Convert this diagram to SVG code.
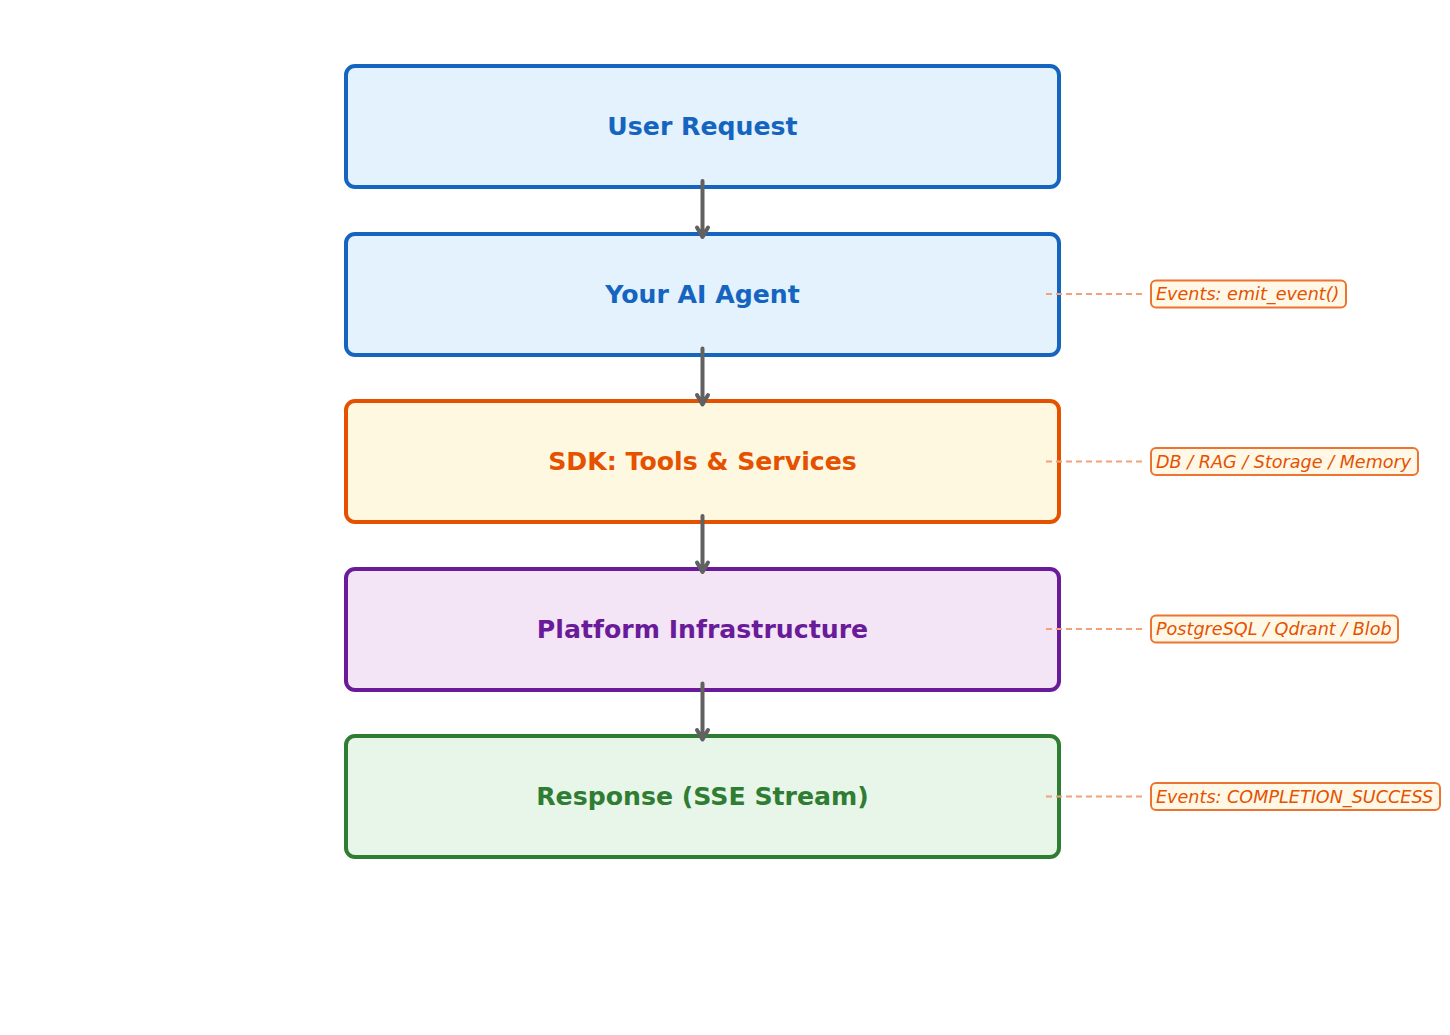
<svg xmlns="http://www.w3.org/2000/svg" width="1450" height="1035" viewBox="0 0 1450 1035">
<style>
.box{stroke-width:4}
.title{font-family:"DejaVu Sans",sans-serif;font-weight:bold;font-size:25.2px;text-anchor:middle;dominant-baseline:central}
.lbl{font-family:"DejaVu Sans",sans-serif;font-style:italic;font-size:17.6px;fill:#e65100;dominant-baseline:central}
.lblbox{fill:#fff8e6;stroke:#ec7332;stroke-width:2}
.dash{stroke:#f2a27a;stroke-width:2;stroke-dasharray:6,4;fill:none}
.arr{stroke:#616161;stroke-width:4;fill:none;stroke-linecap:round;stroke-linejoin:round}
</style>
<rect width="1450" height="1035" fill="#ffffff"/>
<g id="node-user-request">
<rect class="box" x="346" y="66" width="713" height="121" rx="9" fill="#e3f2fd" stroke="#1565c0"/>
<text class="title" x="702.5" y="126.5" fill="#1565c0">User Request</text>
</g>
<g id="node-ai-agent">
<rect class="box" x="346" y="234" width="713" height="121" rx="9" fill="#e3f2fd" stroke="#1565c0"/>
<text class="title" x="702.5" y="294" fill="#1565c0">Your AI Agent</text>
</g>
<g id="node-sdk">
<rect class="box" x="346" y="401" width="713" height="121" rx="9" fill="#fff8e1" stroke="#e65100"/>
<text class="title" x="702.5" y="461.5" fill="#e65100">SDK: Tools &amp; Services</text>
</g>
<g id="node-platform">
<rect class="box" x="346" y="569" width="713" height="121" rx="9" fill="#f3e5f5" stroke="#6a1b9a"/>
<text class="title" x="702.5" y="629" fill="#6a1b9a">Platform Infrastructure</text>
</g>
<g id="node-response">
<rect class="box" x="346" y="736" width="713" height="121" rx="9" fill="#e8f5e9" stroke="#2e7d32"/>
<text class="title" x="702.5" y="796.5" fill="#2e7d32">Response (SSE Stream)</text>
</g>
<g id="connectors">
<path class="arr" d="M702.5 181 V237 M697 227.5 L702.5 237 L708 227.5"/>
<path class="arr" d="M702.5 348.5 V404.5 M697 395 L702.5 404.5 L708 395"/>
<path class="arr" d="M702.5 516 V572 M697 562.5 L702.5 572 L708 562.5"/>
<path class="arr" d="M702.5 683.5 V739.5 M697 730 L702.5 739.5 L708 730"/>
<line class="dash" x1="1046" y1="294" x2="1142" y2="294"/>
<line class="dash" x1="1046" y1="461.5" x2="1142" y2="461.5"/>
<line class="dash" x1="1046" y1="629" x2="1142" y2="629"/>
<line class="dash" x1="1046" y1="796.5" x2="1142" y2="796.5"/>
</g>
<g id="label-events-emit">
<rect class="lblbox" x="1151" y="280.5" width="195" height="27" rx="5"/>
<text class="lbl" x="1156" y="294">Events: emit_event()</text>
</g>
<g id="label-db-rag">
<rect class="lblbox" x="1151" y="448" width="267" height="27" rx="5"/>
<text class="lbl" x="1156" y="461.5">DB / RAG / Storage / Memory</text>
</g>
<g id="label-postgres">
<rect class="lblbox" x="1151" y="615.5" width="247" height="27" rx="5"/>
<text class="lbl" x="1156" y="629">PostgreSQL / Qdrant / Blob</text>
</g>
<g id="label-completion">
<rect class="lblbox" x="1151" y="783" width="289" height="27" rx="5"/>
<text class="lbl" x="1156" y="796.5">Events: COMPLETION_SUCCESS</text>
</g>
</svg>
